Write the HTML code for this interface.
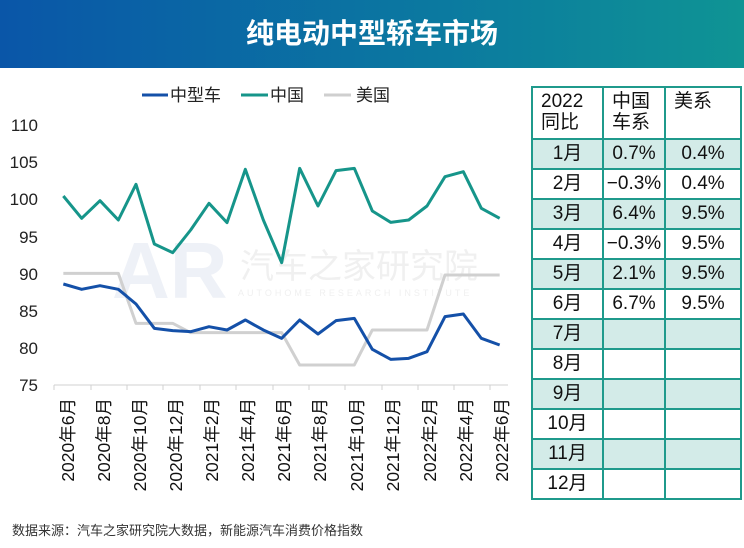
<!DOCTYPE html>
<html><head><meta charset="utf-8"><style>
body{margin:0;width:744px;height:548px;background:#fff;overflow:hidden;font-family:"Liberation Sans","Noto Sans CJK SC",sans-serif;position:relative}
.hdr{position:absolute;left:0;top:0;width:744px;height:68px;background:linear-gradient(90deg,#0a56a8,#0b7aa0 60%,#0f9494);color:#fff;font-size:28px;font-weight:bold;text-align:center;line-height:68px}
table{position:absolute;left:531px;top:86px;border-collapse:collapse;font-size:19px;color:#111;table-layout:fixed}
td{border:2px solid #1f9a8c;height:28px;padding:0;text-align:center;line-height:26px;vertical-align:middle;white-space:nowrap}
tr.h td{height:52px;vertical-align:top;text-align:left;padding-left:8px;line-height:21px;padding-top:3px;box-sizing:border-box}
tr.s td{background:#d3ebe8}
.src{position:absolute;left:12px;top:520px;font-size:13px;color:#333}
</style></head><body>
<div class="hdr">纯电动中型轿车市场</div>
<svg width="530" height="510" style="position:absolute;left:0;top:0" font-family="Liberation Sans, Noto Sans CJK SC, sans-serif">
<g font-size="17" fill="#222">
<line x1="142" y1="95" x2="168" y2="95" stroke="#1450a8" stroke-width="3"/><text x="170" y="101">中型车</text>
<line x1="241" y1="95" x2="268" y2="95" stroke="#16958a" stroke-width="3"/><text x="270" y="101">中国</text>
<line x1="324" y1="95" x2="351" y2="95" stroke="#cfcfcf" stroke-width="3"/><text x="356" y="101">美国</text>
</g>
<g font-size="17" fill="#222" text-anchor="end">
<text x="38" y="131">110</text><text x="38" y="168">105</text><text x="38" y="205">100</text><text x="38" y="243">95</text><text x="38" y="280">90</text><text x="38" y="317">85</text><text x="38" y="354">80</text><text x="38" y="391">75</text>
</g>
<text x="240" y="278" font-size="34" fill="#f0f0f0">汽车之家研究院</text>
<text x="238" y="296" font-size="9" fill="#f0f0f0" letter-spacing="3">AUTOHOME RESEARCH INSTITUTE</text>
<text x="112" y="298" font-size="80" font-weight="bold" fill="#eef1f7">AR</text>
<line x1="54" y1="385" x2="508" y2="385" stroke="#d0d0d0" stroke-width="1"/>
<g stroke="#d0d0d0">
<line x1="54" y1="385" x2="54" y2="390"/><line x1="91" y1="385" x2="91" y2="390"/><line x1="127" y1="385" x2="127" y2="390"/><line x1="163" y1="385" x2="163" y2="390"/><line x1="200" y1="385" x2="200" y2="390"/><line x1="236" y1="385" x2="236" y2="390"/><line x1="273" y1="385" x2="273" y2="390"/><line x1="309" y1="385" x2="309" y2="390"/><line x1="345" y1="385" x2="345" y2="390"/><line x1="382" y1="385" x2="382" y2="390"/><line x1="418" y1="385" x2="418" y2="390"/><line x1="454" y1="385" x2="454" y2="390"/><line x1="490" y1="385" x2="490" y2="390"/>
</g>
<g transform="translate(0,80) scale(0.33333)" fill="none" stroke-width="9" stroke-linejoin="round">
<polyline stroke="#d0d0d0" points="190,580 355,580 408,730 518,730 572,758 845,758 899,855 1063,855 1117,750 1281,750 1335,585 1499,585"/>
<polyline stroke="#16958a" points="190,348 245,415 300,362 355,420 408,313 463,492 518,518 572,450 627,370 681,428 736,268 790,420 845,548 899,265 954,378 1008,272 1063,265 1117,393 1172,427 1226,420 1281,378 1335,290 1390,275 1444,385 1499,415"/>
<polyline stroke="#1450a8" points="190,612 245,628 300,617 355,628 408,672 463,745 518,752 572,755 627,740 681,750 736,720 790,750 845,775 899,720 954,762 1008,722 1063,715 1117,808 1172,838 1226,835 1281,815 1335,710 1390,702 1444,775 1499,795"/>
</g>
<g font-size="17.5" fill="#111" text-anchor="end">
<text transform="translate(74,398) rotate(-90)">2020年6月</text>
<text transform="translate(110,398) rotate(-90)">2020年8月</text>
<text transform="translate(146,398) rotate(-90)">2020年10月</text>
<text transform="translate(182,398) rotate(-90)">2020年12月</text>
<text transform="translate(218,398) rotate(-90)">2021年2月</text>
<text transform="translate(254,398) rotate(-90)">2021年4月</text>
<text transform="translate(290,398) rotate(-90)">2021年6月</text>
<text transform="translate(326,398) rotate(-90)">2021年8月</text>
<text transform="translate(363,398) rotate(-90)">2021年10月</text>
<text transform="translate(399,398) rotate(-90)">2021年12月</text>
<text transform="translate(436,398) rotate(-90)">2022年2月</text>
<text transform="translate(472,398) rotate(-90)">2022年4月</text>
<text transform="translate(508,398) rotate(-90)">2022年6月</text>
</g>
</svg>
<table>
<colgroup><col style="width:71px"><col style="width:62px"><col style="width:76px"></colgroup>
<tr class="h"><td>2022<br>同比</td><td>中国<br>车系</td><td>美系</td></tr>
<tr class="s"><td>1月</td><td>0.7%</td><td>0.4%</td></tr>
<tr><td>2月</td><td>−0.3%</td><td>0.4%</td></tr>
<tr class="s"><td>3月</td><td>6.4%</td><td>9.5%</td></tr>
<tr><td>4月</td><td>−0.3%</td><td>9.5%</td></tr>
<tr class="s"><td>5月</td><td>2.1%</td><td>9.5%</td></tr>
<tr><td>6月</td><td>6.7%</td><td>9.5%</td></tr>
<tr class="s"><td>7月</td><td></td><td></td></tr>
<tr><td>8月</td><td></td><td></td></tr>
<tr class="s"><td>9月</td><td></td><td></td></tr>
<tr><td>10月</td><td></td><td></td></tr>
<tr class="s"><td>11月</td><td></td><td></td></tr>
<tr><td>12月</td><td></td><td></td></tr>
</table>
<div class="src">数据来源：汽车之家研究院大数据，新能源汽车消费价格指数</div>
</body></html>
